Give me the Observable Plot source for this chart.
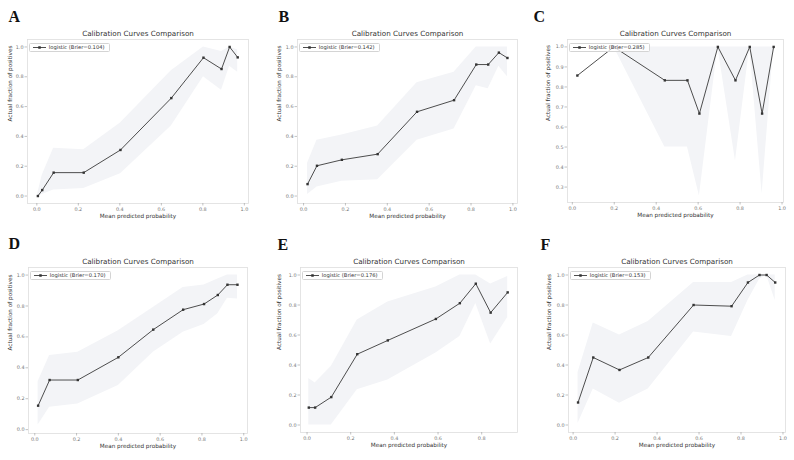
<!DOCTYPE html>
<html>
<head>
<meta charset="utf-8">
<script src="https://cdn.jsdelivr.net/npm/d3@7"></script>
<script src="https://cdn.jsdelivr.net/npm/@observablehq/plot@0.6"></script>
<style>
  html, body { margin: 0; padding: 0; background: #fff; overflow: hidden; }
  #chart { position: relative; width: 794px; height: 460px; background: #fff; overflow: hidden; }
  .panel { position: absolute; }
  .legend {
    position: absolute; box-sizing: border-box;
    border: 0.8px solid #d4d4d4; border-radius: 1.5px;
    background: rgba(255,255,255,0.8);
    font-family: "DejaVu Sans", sans-serif; font-size: 5.2px; color: #333;
    display: flex; align-items: center; white-space: nowrap;
  }
  .legend svg { display: block; margin: 0 3px 0 2.5px; }
</style>
</head>
<body>
<div id="chart"></div>
<script>
// ---------- data ----------
const letters = ["A", "B", "C", "D", "E", "F"];
const briers = ["0.104", "0.142", "0.285", "0.170", "0.176", "0.153"];

const xA  = [0.005, 0.026, 0.081, 0.226, 0.403, 0.648, 0.803, 0.890, 0.929, 0.968];
const yA  = [0.000, 0.040, 0.157, 0.157, 0.309, 0.657, 0.928, 0.852, 1.000, 0.930];
const loA = [0.000, 0.010, 0.040, 0.050, 0.150, 0.470, 0.800, 0.710, 0.870, 0.830];
const hiA = [0.020, 0.140, 0.320, 0.310, 0.490, 0.840, 1.000, 0.970, 1.000, 0.980];

const xB  = [0.019, 0.064, 0.183, 0.354, 0.542, 0.719, 0.825, 0.882, 0.933, 0.974];
const yB  = [0.080, 0.203, 0.243, 0.281, 0.565, 0.643, 0.882, 0.882, 0.962, 0.926];
const loB = [0.010, 0.060, 0.100, 0.110, 0.375, 0.450, 0.740, 0.720, 0.870, 0.800];
const hiB = [0.220, 0.375, 0.410, 0.470, 0.760, 0.830, 1.000, 1.000, 1.000, 1.000];

const xC  = [0.024, 0.198, 0.441, 0.549, 0.606, 0.694, 0.778, 0.846, 0.905, 0.960];
const yC  = [0.857, 1.000, 0.833, 0.833, 0.667, 1.000, 0.833, 1.000, 0.667, 1.000];
const loC = [NaN,   1.000, 0.500, 0.500, 0.255, 1.000, 0.430, 1.000, 0.265, 1.000];
const hiC = [NaN,   1.000, 1.000, 1.000, 1.000, 1.000, 1.000, 1.000, 1.000, 1.000];

const xD  = [0.016, 0.071, 0.206, 0.400, 0.567, 0.710, 0.810, 0.876, 0.922, 0.970];
const yD  = [0.155, 0.321, 0.321, 0.468, 0.647, 0.776, 0.8125, 0.871, 0.9375, 0.9375];
const loD = [0.030, 0.145, 0.166, 0.285, 0.500, 0.630, 0.680, 0.750, 0.850, 0.845];
const hiD = [0.310, 0.480, 0.500, 0.640, 0.790, 0.920, 0.935, 0.974, 1.000, 1.000];

const xE  = [0.008, 0.037, 0.111, 0.230, 0.370, 0.590, 0.700, 0.773, 0.841, 0.919];
const yE  = [0.116, 0.116, 0.186, 0.472, 0.564, 0.707, 0.812, 0.942, 0.749, 0.884];
const loE = [0.000, 0.000, 0.000, 0.235, 0.300, 0.480, 0.590, 0.810, 0.540, 0.716];
const hiE = [0.310, 0.280, 0.390, 0.700, 0.820, 0.920, 1.000, 1.000, 0.940, 0.990];

const xF  = [0.0235, 0.096, 0.221, 0.358, 0.574, 0.755, 0.833, 0.888, 0.922, 0.963];
const yF  = [0.150, 0.450, 0.367, 0.450, 0.800, 0.792, 0.950, 1.000, 1.000, 0.950];
const loF = [0.010, 0.240, 0.145, 0.240, 0.620, 0.590, 0.830, 0.970, 1.000, 0.830];
const hiF = [0.350, 0.680, 0.600, 0.690, 0.950, 0.950, 1.000, 1.000, 1.000, 1.000];

const ticks01   = [0, 0.2, 0.4, 0.6, 0.8, 1.0];
const ticks08   = [0, 0.2, 0.4, 0.6, 0.8];
const ticksC    = [0.3, 0.4, 0.5, 0.6, 0.7, 0.8, 0.9, 1.0];

const titleText = "Calibration Curves Comparison";
const xLabel = "Mean predicted probability";
const yLabel = "Actual fraction of positives";

// ---------- layout ----------
const panels = [
  {xs: xA, ys: yA, lo: loA, hi: hiA, frame: [27, 39, 248, 203],  xd: [-0.045, 1.02],  yd: [-0.05, 1.05],  xt: ticks01, yt: ticks01, lx: -19, ly: -17.3, yl: -17.5},
  {xs: xB, ys: yB, lo: loB, hi: hiB, frame: [297, 39, 517, 203], xd: [-0.029, 1.022], yd: [-0.05, 1.05],  xt: ticks01, yt: ticks01, lx: -19, ly: -17.3, yl: -18},
  {xs: xC, ys: yC, lo: loC, hi: hiC, frame: [567, 39, 783, 202], xd: [-0.023, 1.007], yd: [0.223, 1.037], xt: ticks01, yt: ticksC,  lx: -34, ly: -17.3, yl: -19},
  {xs: xD, ys: yD, lo: loD, hi: hiD, frame: [28, 267, 247, 433], xd: [-0.03, 1.018],  yd: [-0.025, 1.049], xt: ticks01, yt: ticks01, lx: -20, ly: -18.4, yl: -18},
  {xs: xE, ys: yE, lo: loE, hi: hiE, frame: [300, 267, 517, 432], xd: [-0.03, 0.964], yd: [-0.05, 1.05],  xt: ticks08, yt: ticks01, lx: -23, ly: -18, yl: -21},
  {xs: xF, ys: yF, lo: loF, hi: hiF, frame: [568, 267, 785, 432], xd: [-0.022, 1.012], yd: [-0.05, 1.05], xt: ticks01, yt: ticks01, lx: -28, ly: -18, yl: -19.5}
];

const ML = 40, MT = 30, MR = 8, MB = 20;
const chart = document.getElementById("chart");
const font = "DejaVu Sans, sans-serif";

panels.forEach((p, k) => {
  const [l, t, r, b] = p.frame;
  const fw = r - l, fh = b - t;
  const W = fw + ML + MR, H = fh + MT + MB;
  const rows = p.xs.map((x, i) => ({x, y: p.ys[i], lo: p.lo[i], hi: p.hi[i]}));

  const svg = Plot.plot({
    width: W, height: H,
    marginLeft: ML, marginTop: MT, marginRight: MR, marginBottom: MB,
    x: {domain: p.xd},
    y: {domain: p.yd},
    style: {background: "transparent", fontFamily: font, fontSize: "4.8px", overflow: "visible"},
    marks: [
      Plot.areaY(rows, {x: "x", y1: "lo", y2: "hi", fill: "#f3f4f7"}),
      Plot.frame({stroke: "#dedede", strokeWidth: 0.8}),
      Plot.axisX({ticks: p.xt, tickFormat: d3.format(".1f"), tickSize: 2.5, tickPadding: 1.5,
                  label: null, stroke: "#9a9a9a", strokeWidth: 0.6, fill: "#777", fontSize: 4.9}),
      Plot.axisY({ticks: p.yt, tickFormat: d3.format(".1f"), tickSize: 2.5, tickPadding: 1.5,
                  label: null, stroke: "#9a9a9a", strokeWidth: 0.6, fill: "#777", fontSize: 4.9}),
      Plot.line(rows, {x: "x", y: "y", stroke: "#3a3a3a", strokeWidth: 0.9}),
      Plot.dot(rows, {x: "x", y: "y", symbol: "square", r: 1.35, fill: "#333", stroke: "none"}),
      Plot.text([titleText], {frameAnchor: "top", lineAnchor: "bottom", dy: -3.4, fontSize: 7.2, fill: "#333"}),
      Plot.text([xLabel], {frameAnchor: "bottom", lineAnchor: "bottom", dy: 14.5, fontSize: 5.7, fill: "#333"}),
      Plot.text([yLabel], {frameAnchor: "left", rotate: -90, lineAnchor: "middle", dx: p.yl, fontSize: 5.7, fill: "#333"}),
      Plot.text([letters[k]], {frameAnchor: "top-left", textAnchor: "start", lineAnchor: "bottom",
                  dx: p.lx, dy: p.ly, fontSize: 16, fontWeight: "bold", fontFamily: "Liberation Serif, serif", fill: "#111"})
    ]
  });

  const div = document.createElement("div");
  div.className = "panel";
  div.style.left = (l - ML) + "px";
  div.style.top = (t - MT) + "px";
  div.style.width = W + "px";
  div.style.height = H + "px";
  div.appendChild(svg);

  const lg = document.createElement("div");
  lg.className = "legend";
  lg.style.left = (ML + 2.3) + "px";
  lg.style.top = (MT + 3.7) + "px";
  lg.style.width = "80.5px";
  lg.style.height = "9px";
  lg.innerHTML = `<svg width="13" height="5" viewBox="0 0 13 5"><line x1="0" y1="2.5" x2="13" y2="2.5" stroke="#3a3a3a" stroke-width="0.9"/><rect x="5.25" y="1.25" width="2.5" height="2.5" fill="#333"/></svg><span>logistic (Brier=${briers[k]})</span>`;
  div.appendChild(lg);

  chart.appendChild(div);
});
</script>
</body>
</html>
